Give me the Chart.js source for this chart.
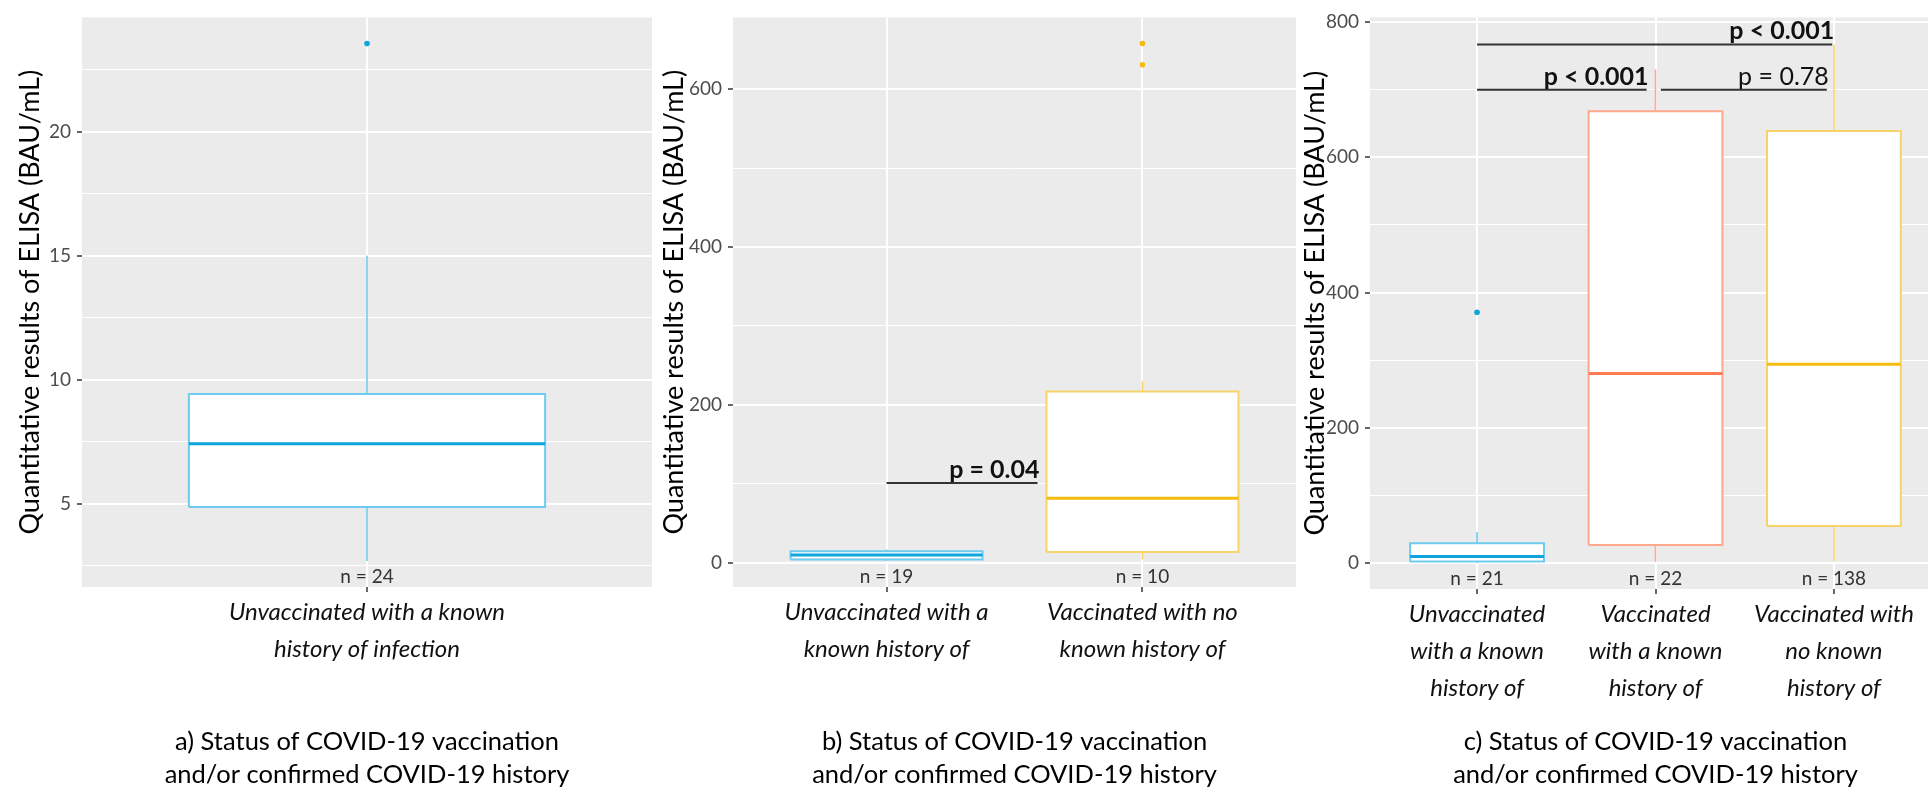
<!DOCTYPE html>
<html>
<head>
<meta charset="utf-8">
<script src="https://cdn.jsdelivr.net/npm/chart.js@4.4.1/dist/chart.umd.min.js"></script>
<style>
  html, body { margin: 0; padding: 0; background: #fff; width: 1928px; height: 788px; overflow: hidden; }
  #wrap { position: relative; width: 1928px; height: 788px; overflow: hidden; }
  canvas { position: absolute; top: 0; }
</style>
</head>
<body>
<div id="wrap">
  <canvas id="chart-a" width="660" height="788" style="left:0px"></canvas>
  <canvas id="chart-b" width="660" height="788" style="left:640px"></canvas>
  <canvas id="chart-c" width="680" height="788" style="left:1280px"></canvas>
</div>
<script>
// ==================== data ====================
const yTitle = 'Quantitative results of ELISA (BAU/mL)';

// a) one group
const catsA = [['Unvaccinated with a known', 'history of infection']];
const nA = [24];
const whiskLoA = [2.7];
const q1A = [4.87];
const medA = [7.42];
const q3A = [9.43];
const whiskHiA = [15];
const outliersA = [[23.55]];
const yTicksA = [5, 10, 15, 20];
const yMinorA = [2.5, 7.5, 12.5, 17.5, 22.5];
const yRangeA = [1.65, 24.6];
const captionA = ['a) Status of COVID-19 vaccination', 'and/or confirmed COVID-19 history'];

// b) two groups
const catsB = [['Unvaccinated with a', 'known history of'], ['Vaccinated with no', 'known history of']];
const nB = [19, 10];
const whiskLoB = [2, 4.2];
const q1B = [4.2, 13.7];
const medB = [9.6, 81.6];
const q3B = [14.6, 217];
const whiskHiB = [16.7, 230];
const outliersB = [[], [658, 631]];
const yTicksB = [0, 200, 400, 600];
const yMinorB = [100, 300, 500];
const yRangeB = [-30.8, 691];
const captionB = ['b) Status of COVID-19 vaccination', 'and/or confirmed COVID-19 history'];
const pFromB = [1];
const pToB = [1.59];
const pAtB = [101];
const pTextB = ['p = 0.04'];
const pBoldB = [true];

// c) three groups
const catsC = [
  ['Unvaccinated', 'with a known', 'history of'],
  ['Vaccinated', 'with a known', 'history of'],
  ['Vaccinated with', 'no known', 'history of']
];
const nC = [21, 22, 138];
const whiskLoC = [0.5, 2.3, 2.3];
const q1C = [2.3, 26.8, 54.6];
const medC = [9.7, 280.4, 294];
const q3C = [29.3, 668.3, 639];
const whiskHiC = [46, 730, 767];
const outliersC = [[371], [], []];
const yTicksC = [0, 200, 400, 600, 800];
const yMinorC = [100, 300, 500, 700];
const yRangeC = [-38.4, 807];
const captionC = ['c) Status of COVID-19 vaccination', 'and/or confirmed COVID-19 history'];
const pFromC = [1, 1, 2.03];
const pToC = [2.99, 1.95, 2.96];
const pAtC = [767, 700, 700];
const pTextC = ['p < 0.001', 'p < 0.001', 'p = 0.78'];
const pBoldC = [true, true, false];

// ==================== styles ====================
const FONT = 'Lato, "Open Sans", sans-serif';
const PANEL_BG = '#EBEBEB';
const HALF = 0.375; // half box width in category units
const PAL = {
  blue:   { edge: '#6CCBEF', mid: '#0FA4DE' },
  red:    { edge: '#FFA88C', mid: '#FF7A4F' },
  yellow: { edge: '#F8D36A', mid: '#F6BC0C' }
};

// one group -> whisker, box, median, outliers
function groupDatasets(i, lo, q1, med, q3, hi, outs, pal) {
  const x = i + 1;
  return [
    {
      data: [{ x, y: lo }, { x, y: hi }],
      borderColor: pal.edge, borderWidth: 1.6, pointRadius: 0, order: 4
    },
    {
      data: [{ x: x - HALF, y: q1 }, { x: x + HALF, y: q1 }, { x: x + HALF, y: q3 }, { x: x - HALF, y: q3 }, { x: x - HALF, y: q1 }],
      borderColor: pal.edge, borderWidth: 2, borderJoinStyle: 'miter',
      backgroundColor: '#ffffff', fill: 'shape', pointRadius: 0, order: 3
    },
    {
      data: [{ x: x - HALF, y: med }, { x: x + HALF, y: med }],
      borderColor: pal.mid, borderWidth: 3, pointRadius: 0, order: 2
    },
    {
      data: outs.map(v => ({ x, y: v })),
      showLine: false, pointRadius: 2.8, pointBorderWidth: 0,
      pointBackgroundColor: pal.mid, order: 1
    }
  ];
}

function makePanel(id, cfg) {
  const cats = cfg.cats;
  let datasets = [];
  cats.forEach((c, i) => {
    datasets = datasets.concat(groupDatasets(i, cfg.lo[i], cfg.q1[i], cfg.med[i], cfg.q3[i], cfg.hi[i], cfg.out[i], cfg.colors[i]));
  });

  // p-value brackets
  const pLine = [];
  (cfg.pFrom || []).forEach((f, i) => {
    pLine.push({ x: f, y: cfg.pAt[i] }, { x: cfg.pTo[i], y: cfg.pAt[i] }, { x: cfg.pTo[i], y: null });
  });
  if (pLine.length) {
    datasets.push({ data: pLine, borderColor: '#333333', borderWidth: 2, pointRadius: 0, order: 0 });
  }

  const panelText = {
    id: 'panelText',
    beforeDraw(chart) {
      const { ctx, chartArea: a } = chart;
      ctx.save();
      ctx.fillStyle = PANEL_BG;
      ctx.fillRect(a.left, a.top, a.right - a.left, a.bottom - a.top);
      ctx.restore();
    },
    afterDatasetsDraw(chart) {
      const { ctx, chartArea, scales: { x, y } } = chart;
      ctx.save();
      ctx.font = `19px ${FONT}`;
      ctx.fillStyle = '#333';
      ctx.textAlign = 'center';
      ctx.textBaseline = 'middle';
      cfg.n.forEach((n, i) => ctx.fillText('n = ' + n, x.getPixelForValue(i + 1), chartArea.bottom - 10));

      ctx.textAlign = 'right';
      ctx.textBaseline = 'alphabetic';
      ctx.fillStyle = '#111';
      (cfg.pText || []).forEach((t, i) => {
        ctx.font = (cfg.pBold[i] ? 'bold ' : '') + `25px ${FONT}`;
        ctx.fillText(t, x.getPixelForValue(cfg.pTo[i]) + 2, y.getPixelForValue(cfg.pAt[i]) - 5);
      });
      ctx.restore();
    }
  };

  const allY = cfg.yTicks.concat(cfg.yMinor).sort((a, b) => a - b);

  return new Chart(document.getElementById(id), {
    type: 'line',
    data: { datasets },
    options: {
      responsive: false,
      animation: false,
      devicePixelRatio: 1,
      layout: { padding: { left: 0, right: cfg.padRight, top: cfg.padTop, bottom: 0 } },
      plugins: { legend: { display: false }, tooltip: { enabled: false } },
      elements: { line: { tension: 0 } },
      scales: {
        x: {
          type: 'linear',
          min: 0.4,
          max: cats.length + 0.6,
          afterBuildTicks: s => { s.ticks = cats.map((c, i) => ({ value: i + 1 })); },
          afterFit: s => { s.height = cfg.xAxisH; },
          ticks: {
            autoSkip: false, maxRotation: 0, minRotation: 0, padding: 2, color: '#111',
            font: { family: FONT, size: 24, style: 'italic', lineHeight: 37 / 24 },
            callback: (v, i) => cats[i]
          },
          grid: { color: '#ffffff', lineWidth: 2, tickColor: '#666', tickLength: 5 },
          border: { display: false },
          title: {
            display: true, text: cfg.caption, color: '#000',
            font: { family: FONT, size: 25.5, lineHeight: 33 / 25.5 },
            padding: { top: 0, bottom: -3 }
          }
        },
        y: {
          type: 'linear',
          min: cfg.yRange[0],
          max: cfg.yRange[1],
          afterBuildTicks: s => { s.ticks = allY.map(v => ({ value: v })); },
          afterFit: s => { s.width = cfg.yAxisW; },
          ticks: {
            autoSkip: false, padding: 6, color: '#4D4D4D',
            font: { family: FONT, size: 19 },
            callback: v => (cfg.yTicks.includes(v) ? String(v) : '')
          },
          grid: {
            color: '#ffffff',
            lineWidth: c => (cfg.yTicks.includes(c.tick.value) ? 2 : 1),
            tickColor: c => (cfg.yTicks.includes(c.tick.value) ? '#666' : 'rgba(0,0,0,0)'),
            tickLength: 5
          },
          border: { display: false },
          title: {
            display: true, text: yTitle, color: '#000',
            font: { family: FONT, size: 27 },
            padding: { top: cfg.titlePad, bottom: 0 }
          }
        }
      }
    },
    plugins: [panelText]
  });
}

makePanel('chart-a', {
  cats: catsA, n: nA, lo: whiskLoA, q1: q1A, med: medA, q3: q3A, hi: whiskHiA, out: outliersA,
  colors: [PAL.blue], yTicks: yTicksA, yMinor: yMinorA, yRange: yRangeA, caption: captionA,
  yAxisW: 82, titlePad: 13.8, padRight: 8, padTop: 7, xAxisH: 201
});

makePanel('chart-b', {
  cats: catsB, n: nB, lo: whiskLoB, q1: q1B, med: medB, q3: q3B, hi: whiskHiB, out: outliersB,
  colors: [PAL.blue, PAL.yellow], yTicks: yTicksB, yMinor: yMinorB, yRange: yRangeB, caption: captionB,
  pFrom: pFromB, pTo: pToB, pAt: pAtB, pText: pTextB, pBold: pBoldB,
  yAxisW: 93, titlePad: 17.8, padRight: 3, padTop: 7, xAxisH: 201
});

makePanel('chart-c', {
  cats: catsC, n: nC, lo: whiskLoC, q1: q1C, med: medC, q3: q3C, hi: whiskHiC, out: outliersC,
  colors: [PAL.blue, PAL.red, PAL.yellow], yTicks: yTicksC, yMinor: yMinorC, yRange: yRangeC, caption: captionC,
  pFrom: pFromC, pTo: pToC, pAt: pAtC, pText: pTextC, pBold: pBoldC,
  yAxisW: 90, titlePad: 18.8, padRight: 19, padTop: 13, xAxisH: 199
});
</script>
</body>
</html>
